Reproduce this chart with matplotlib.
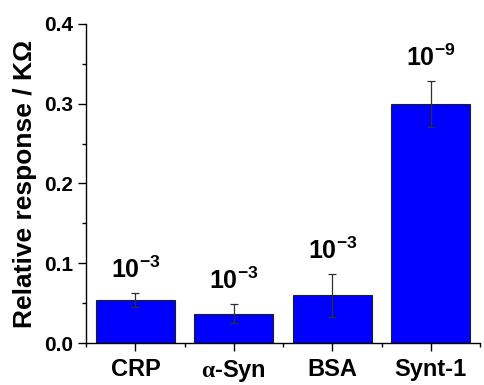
import matplotlib
matplotlib.use("Agg")
from matplotlib import pyplot as plt
from matplotlib.ticker import MultipleLocator, FixedLocator, FormatStrFormatter

# data
samples = ["CRP", r"$\alpha$-Syn", "BSA", "Synt-1"]
response = [0.054, 0.037, 0.060, 0.300]
erreur = [0.0085, 0.012, 0.027, 0.029]
exposants = [-3, -3, -3, -9]

plt.rcParams["font.family"] = ["Liberation Sans", "DejaVu Sans"]
plt.rcParams["font.weight"] = "bold"
plt.rcParams["mathtext.fontset"] = "custom"
plt.rcParams["mathtext.rm"] = "Liberation Sans:bold"
plt.rcParams["mathtext.bf"] = "Liberation Sans:bold"
plt.rcParams["mathtext.it"] = "Liberation Serif"

fig = plt.figure(figsize=(4.84, 3.85), dpi=100)
ax = fig.add_axes([0.178, 0.109, 0.814, 0.829])

pos = list(range(len(samples)))
ax.bar(pos, response, width=0.8, color="#0000ff", edgecolor="#202020", linewidth=0.8)
ax.errorbar(pos, response, yerr=erreur, fmt="none", ecolor="#303030",
            elinewidth=0.9, capsize=3, capthick=0.9)

for x, v, e, p in zip(pos, response, erreur, exposants):
    ax.annotate(r"$\mathbf{10^{%d}}$" % p, (x, v + e), xytext=(0, 7),
                textcoords="offset points", ha="center", va="bottom", fontsize=18)

ax.set_xlim(-0.5, 3.5)
ax.set_ylim(0, 0.4)
ax.set_xticks(pos)
ax.set_xticklabels(samples, fontsize=17, fontweight="bold")
ax.xaxis.set_minor_locator(FixedLocator([-0.5, 0.5, 1.5, 2.5, 3.5]))
ax.yaxis.set_major_locator(MultipleLocator(0.1))
ax.yaxis.set_minor_locator(MultipleLocator(0.05))
ax.yaxis.set_major_formatter(FormatStrFormatter("%.1f"))
ax.tick_params(axis="y", labelsize=15)
ax.tick_params(axis="both", which="major", length=6, width=1, direction="out")
ax.tick_params(axis="both", which="minor", length=3, width=1, direction="out")
ax.tick_params(axis="x", which="major", pad=5)
ax.set_ylabel("Relative response / KΩ", fontsize=19, fontweight="bold", labelpad=5)

for s in ["top", "right"]:
    ax.spines[s].set_visible(False)
for s in ["left", "bottom"]:
    ax.spines[s].set_linewidth(1)

fig.savefig("out.png", dpi=100)
